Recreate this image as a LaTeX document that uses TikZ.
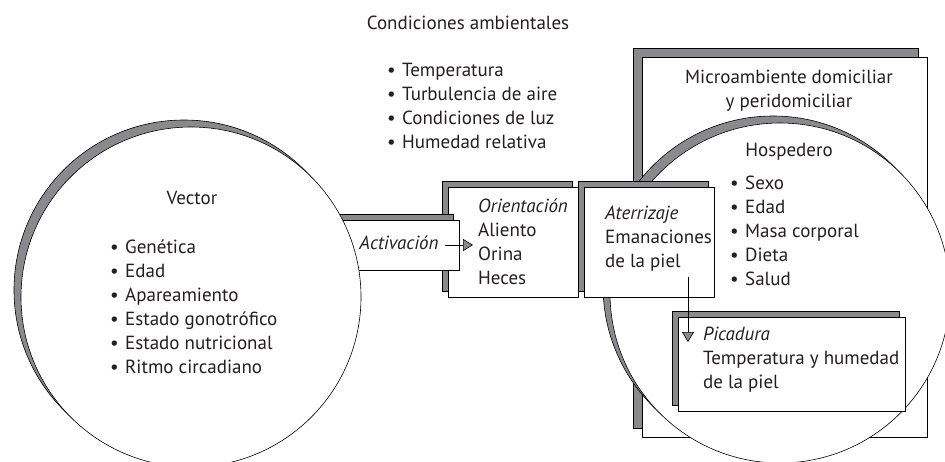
\documentclass[tikz,border=0pt]{standalone}
\usepackage{fontspec}
\setmainfont{PT Sans}
\usepackage{xcolor}
\usetikzlibrary{arrows.meta,shadows,positioning}
\definecolor{shade}{RGB}{138,138,142}
\definecolor{ink}{RGB}{35,31,32}
\newcommand{\bul}[1]{\makebox[15pt][l]{\textbullet}#1}

\begin{document}
\begin{tikzpicture}[x=1pt,y=-1pt,
  txt/.style={text=ink, font=\fontsize{19}{24}\selectfont, inner sep=0pt, align=left},
  panel/.style={draw=black, fill=white, line width=0.6pt, inner sep=0pt,
    copy shadow={shadow xshift=-#1, shadow yshift=#1, fill=shade, draw=black}},
  panel/.default=6pt,
  disc/.style={circle, draw=black, fill=white, line width=0.6pt, minimum size=340pt, inner sep=0pt,
    copy shadow={shadow xshift=-7pt, shadow yshift=7pt, fill=shade, draw=black}},
  arr/.style={-{Triangle[length=10pt,width=12pt,fill=shade]}, line width=0.6pt}]
\path[use as bounding box] (0,0) rectangle (945,461);
\clip (0,0) rectangle (945,461);

% condiciones ambientales
\node[txt] (envTitle) at (468,23) {Condiciones ambientales};
\node[txt, anchor=west] (envList) at (387,106) {\bul{Temperatura}\\ \bul{Turbulencia de aire}\\ \bul{Condiciones de luz}\\ \bul{Humedad relativa}};

% microambiente y hospedero
\node[panel=9pt, minimum width=285pt, minimum height=380pt] (micro) at (784.5,247) {};
\node[txt, align=center] (microTxt) at (789,91) {Microambiente domiciliar\\y peridomiciliar};
\node[disc] (host) at (780,293) {};
\node[txt] (hostTxt) at (789,152) {Hospedero};
\node[txt, anchor=west] (hostList) at (730,230.5) {\bul{Sexo}\\ \bul{Edad}\\ \bul{Masa corporal}\\ \bul{Dieta}\\ \bul{Salud}};

% etapas
\node[panel, minimum width=130pt, minimum height=110pt] (orient) at (513,242) {};
\node[txt, anchor=west] (orientTxt) at (478,242) {\textit{Orientación}\\Aliento\\Orina\\Heces};
\node[panel, minimum width=130pt, minimum height=110pt] (land) at (649,242) {};
\node[txt, anchor=west] (landTxt) at (605,239) {\textit{Aterrizaje}\\Emanaciones\\de la piel};
\node[panel, minimum width=227pt, minimum height=94pt] (bite) at (791.5,364) {};
\node[txt, anchor=west] (biteTxt) at (703,360) {\textit{Picadura}\\Temperatura y humedad\\de la piel};
\node[panel, minimum width=159pt, minimum height=50pt] (act) at (379.5,245) {};
\node[txt] (actTxt) at (399,243) {\textit{Activación}};

% vector
\node[disc] (vector) at (191,297) {};
\node[txt] (vectorTxt) at (192,198) {Vector};
\node[txt, anchor=west] (vectorList) at (110,306.5) {\bul{Genética}\\ \bul{Edad}\\ \bul{Apareamiento}\\ \bul{Estado gonotrófico}\\ \bul{Estado nutricional}\\ \bul{Ritmo circadiano}};

% flechas
\coordinate (actFrom) at (445,245);
\coordinate (actTo) at (473,245);
\draw[arr] (actFrom) -- (actTo);
\coordinate (landFrom) at (688,277);
\coordinate (biteTo) at (688,342);
\draw[arr] (landFrom) -- (biteTo);
\end{tikzpicture}
\end{document}
